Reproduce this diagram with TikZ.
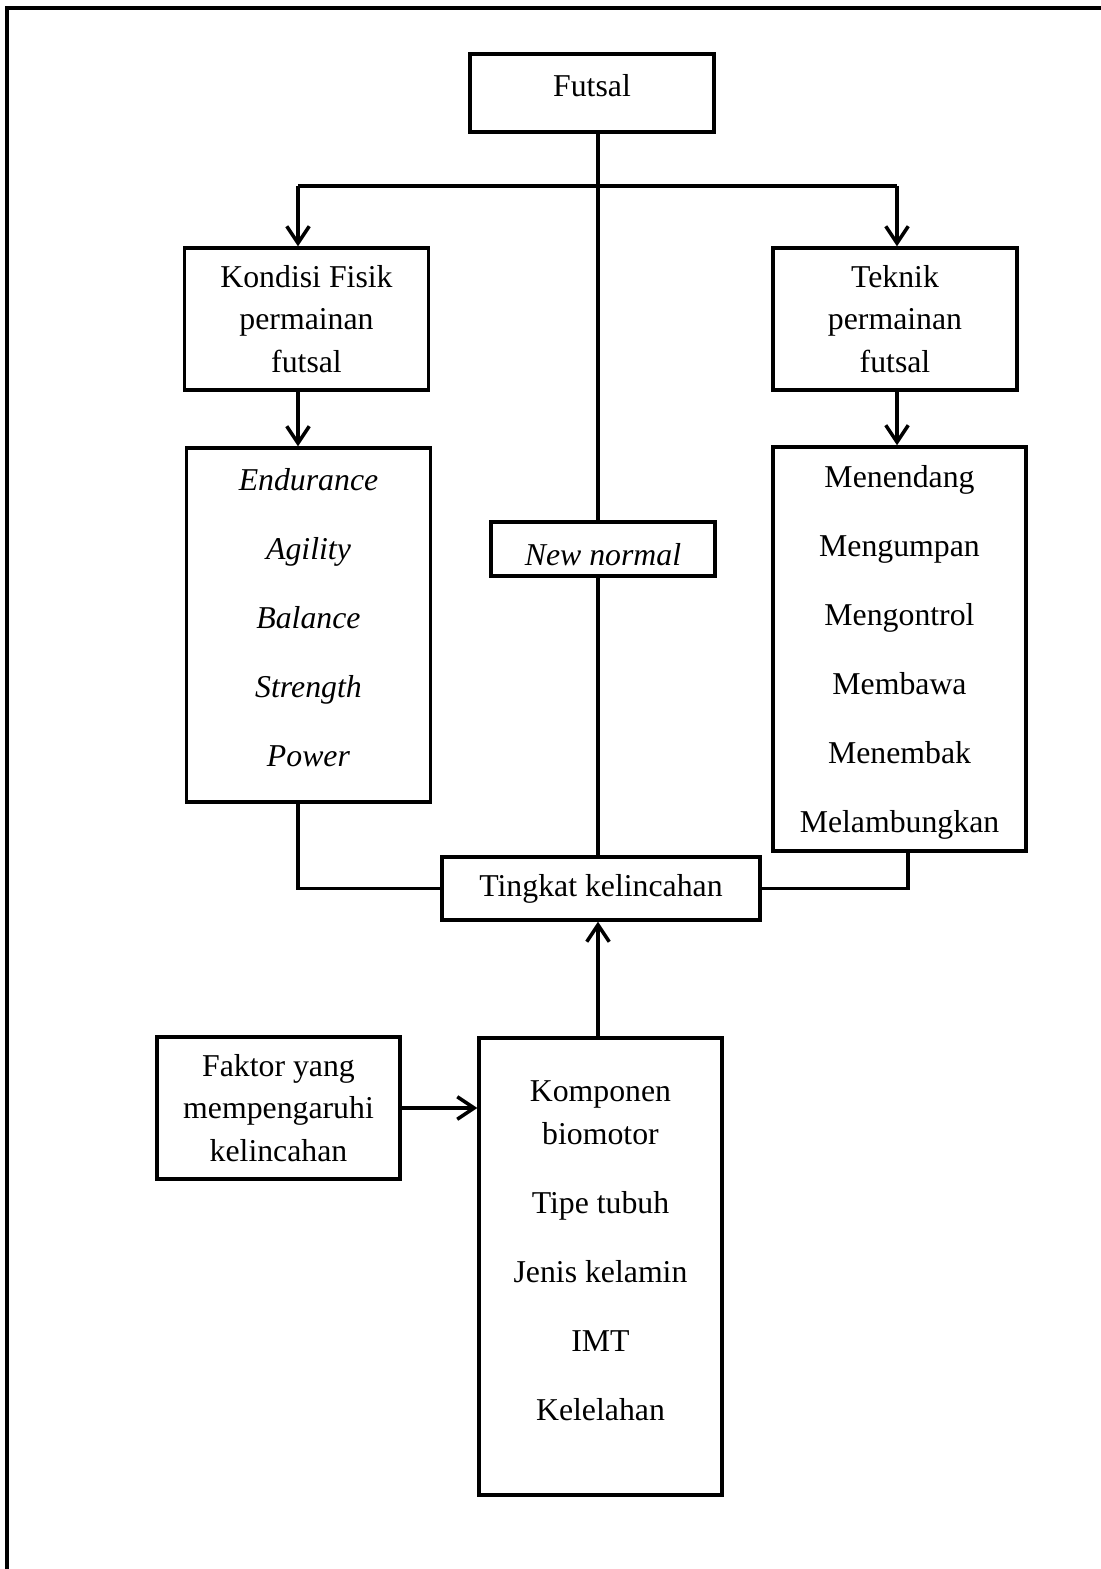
\documentclass[tikz,border=0pt]{standalone}
\usepackage{fontspec}
\setmainfont{Liberation Serif}
\usetikzlibrary{arrows.meta,calc}

\begin{document}
\begin{tikzpicture}[
  x=0.025cm, y=-0.025cm,
  >={Straight Barb[length=12pt,width=16pt]},
  every node/.style={font=\fontsize{22.6}{30.2}\selectfont},
  box/.style={draw, line width=2.4pt, inner sep=0pt, align=center, minimum width=6.1cm},
  link/.style={line width=2.5pt},
]
  \useasboundingbox (0,0) rectangle (1100,1569);

  % Outer frame (runs off the page on the right and bottom)
  \draw[line width=2.8pt] (7,1575) |- (1110,8);

  % Top of the tree
  \node[box, minimum height=1.95cm, text depth=0.4cm] (futsal) at (592,93) {Futsal};

  % Second level
  \node[box, minimum height=3.55cm] (kondisi) at (306.5,319)
    {Kondisi Fisik\\permainan\\futsal};
  \node[box, minimum height=3.55cm] (teknik) at (895,319)
    {Teknik\\permainan\\futsal};

  % Lists under each branch
  \node[box, minimum height=8.85cm, text depth=0.38cm] (fisik) at (308.5,625)
    {\textit{Endurance}\\[18.9pt]\textit{Agility}\\[18.9pt]\textit{Balance}\\[18.9pt]%
     \textit{Strength}\\[18.9pt]\textit{Power}};
  \node[box, minimum width=6.325cm, minimum height=10.1cm, text depth=-3.6pt] (gerak) at (899.5,649)
    {Menendang\\[18.9pt]Mengumpan\\[18.9pt]Mengontrol\\[18.9pt]Membawa\\[18.9pt]%
     Menembak\\[18.9pt]Melambungkan};

  % Middle
  \node[box, minimum width=5.6cm, minimum height=1.35cm, text height=24pt] (newnormal) at (603,549)
    {\textit{New normal}};
  \node[box, minimum width=7.95cm, minimum height=1.575cm] (tingkat) at (601,888.5)
    {Tingkat kelincahan};

  % Bottom
  \node[box, minimum width=6.075cm, minimum height=3.55cm] (faktor) at (278.5,1108)
    {Faktor yang\\mempengaruhi\\kelincahan};
  \node[box, minimum width=6.075cm, minimum height=11.425cm, text depth=0.78cm] (komponen) at (600.5,1266.5)
    {Komponen\\biomotor\\[18.9pt]Tipe tubuh\\[18.9pt]Jenis kelamin\\[18.9pt]IMT\\[18.9pt]Kelelahan};

  % Branch points
  \coordinate (split) at (598,186);
  \coordinate (left) at (298,186);
  \coordinate (right) at (897,186);

  % Connectors from Futsal
  \draw[link] (futsal.south -| split) -- (newnormal.north -| split);
  \draw[link] (left) -- (right);
  \draw[link, ->] (left) -- (kondisi.north -| left);
  \draw[link, ->] (right) -- (teknik.north -| right);
  \draw[link, ->] (kondisi.south -| left) -- (fisik.north -| left);
  \draw[link, ->] (teknik.south -| right) -- (gerak.north -| right);

  % Into Tingkat kelincahan
  \draw[link] (newnormal.south -| split) -- (tingkat.north -| split);
  \draw[link] (fisik.south -| left) |- (tingkat.west);
  \draw[link] ($(gerak.south)+(8.5,0)$) |- (tingkat.east);
  \draw[link, ->] (komponen.north -| split) -- (tingkat.south -| split);
  \draw[link, ->] (faktor.east) -- (faktor.east -| komponen.west);
\end{tikzpicture}
\end{document}
